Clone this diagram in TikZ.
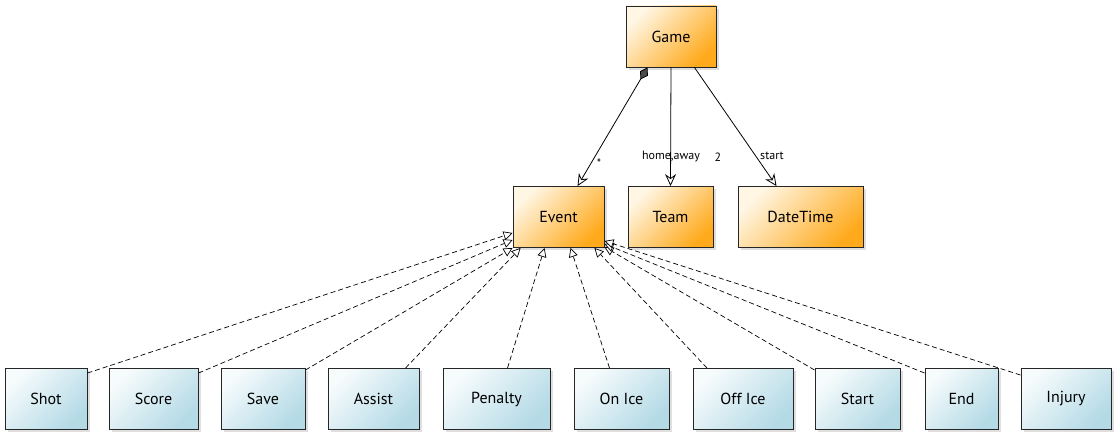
\documentclass[tikz,border=0pt]{standalone}
\usepackage{fontspec}
\setmainfont{PT Sans}
\usetikzlibrary{arrows.meta,shadows}
\definecolor{goldlight}{HTML}{FFF6E4}
\definecolor{golddark}{HTML}{FFAA1C}
\definecolor{icelight}{HTML}{F6FBFC}
\definecolor{icedark}{HTML}{B4DAE6}
\begin{document}
\begin{tikzpicture}[x=1pt,y=-1pt,
  cls/.style={draw=black!85,line width=0.9pt,minimum height=61pt,inner sep=0pt,
    font=\fontsize{16}{18}\selectfont,
    drop shadow={opacity=0.25,shadow xshift=3pt,shadow yshift=-3pt}},
  gold/.style={cls,top color=goldlight,bottom color=golddark,shading angle=45},
  ice/.style={cls,top color=icelight,bottom color=icedark,shading angle=45},
  assoc/.style={line width=0.8pt,-{Stealth[open,length=12pt,width=11pt,inset=4pt]}},
  comp/.style={assoc,{Diamond[fill=black!70,length=14pt,width=9pt]}-{Stealth[open,length=12pt,width=11pt,inset=4pt]}},
  isa/.style={line width=0.7pt,dash pattern=on 5pt off 3pt,-{Triangle[open,fill=white,length=9pt,width=9pt]}},
  lbl/.style={font=\fontsize{12}{14}\selectfont,inner sep=1pt}]
\useasboundingbox (0,0) rectangle (1117,435);
\node[gold,minimum width=90pt] (Game) at (671,36.5) {Game};
\node[gold,minimum width=91pt] (Event) at (558.5,217) {Event};
\node[gold,minimum width=85pt] (Team) at (670.5,217) {Team};
\node[gold,minimum width=125pt] (DateTime) at (800.5,217) {DateTime};
\node[ice,minimum width=82pt] (Shot) at (46,399) {Shot};
\node[ice,minimum width=89pt] (Score) at (153.5,399) {Score};
\node[ice,minimum width=84pt] (Save) at (263,399) {Save};
\node[ice,minimum width=91pt] (Assist) at (373.5,399) {Assist};
\node[ice,minimum width=107pt] (Penalty) at (496.5,399) {Penalty};
\node[ice,minimum width=95pt] (OnIce) at (621.5,399) {On Ice};
\node[ice,minimum width=100pt] (OffIce) at (743,399) {Off Ice};
\node[ice,minimum width=85pt] (Start) at (857.5,399) {Start};
\node[ice,minimum width=73pt] (End) at (961.5,399) {End};
\node[ice,minimum width=90pt] (Injury) at (1066,399) {Injury};
\draw[comp] ([xshift=22pt]Game.south west) -- ([xshift=65pt]Event.north west);
\draw[assoc] (Game.south) -- (Team.north);
\draw[assoc] ([xshift=-22pt]Game.south east) -- ([xshift=-24pt]DateTime.north);
\node[lbl] (many) at (599,163) {*};
\node[lbl] (roles) at (671,157) {home,away};
\node[lbl] (two) at (718,157) {2};
\node[lbl] (when) at (772,156) {start};
\draw[isa] ([yshift=-5pt]Shot.north east) -- ([yshift=15pt]Event.south west);
\draw[isa] ([yshift=-5pt]Score.north east) -- ([yshift=8pt]Event.south west);
\draw[isa] ([yshift=-2pt]Save.north east) -- (Event.south west);
\draw[isa] ([xshift=32pt]Assist.north) -- ([xshift=8pt]Event.south west);
\draw[isa] ([xshift=11pt]Penalty.north) -- ([xshift=32pt]Event.south west);
\draw[isa] ([xshift=-12pt]OnIce.north) -- ([xshift=58pt]Event.south west);
\draw[isa] ([xshift=-36pt]OffIce.north) -- ([xshift=-10pt]Event.south east);
\draw[isa] ([yshift=-2pt]Start.north west) -- ([yshift=1pt]Event.south east);
\draw[isa] ([yshift=-5pt]End.north west) -- ([yshift=4pt]Event.south east);
\draw[isa] ([yshift=-7pt]Injury.north west) -- ([yshift=7pt]Event.south east);
\end{tikzpicture}
\end{document}
